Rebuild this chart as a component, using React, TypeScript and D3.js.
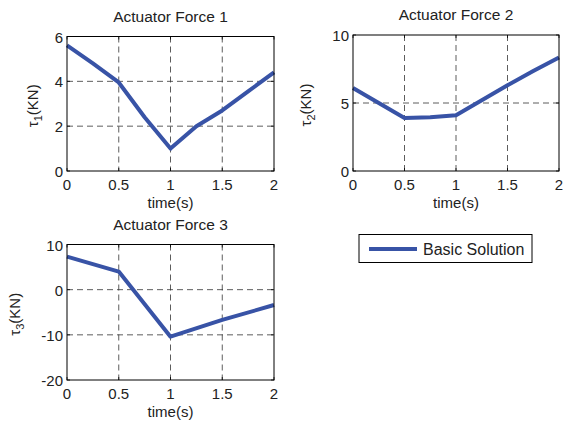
import React, { useEffect, useRef } from 'react';
import * as d3 from 'd3';

const timeTicks = [0, 0.5, 1, 1.5, 2];

const force1Time = [0, 0.25, 0.5, 0.75, 1, 1.25, 1.5, 1.75, 2];
const force1Vals = [5.6, 4.8, 3.95, 2.4, 1.0, 2.0, 2.7, 3.55, 4.4];
const force1Ticks = [0, 2, 4, 6];

const force2Time = [0, 0.5, 0.75, 1, 1.25, 1.5, 1.75, 2];
const force2Vals = [6.1, 3.9, 3.95, 4.1, 5.2, 6.3, 7.35, 8.35];
const force2Ticks = [0, 5, 10];

const force3Time = [0, 0.5, 1, 1.5, 2];
const force3Vals = [7.3, 4.0, -10.4, -6.7, -3.4];
const force3Ticks = [-20, -10, 0, 10];

const legendLabel = 'Basic Solution';
const lineColor = '#3853a6';
const font = 'Liberation Sans, Arial, sans-serif';

interface Panel {
  title: string;
  sub: string;
  t: number[];
  v: number[];
  yTicks: number[];
  yDomain: [number, number];
  labelOff: number;
  box: { x0: number; x1: number; y0: number; y1: number };
}

const panels: Panel[] = [
  { title: 'Actuator Force 1', sub: '1', t: force1Time, v: force1Vals, yTicks: force1Ticks, yDomain: [0, 6],
    labelOff: 29, box: { x0: 67, x1: 274, y0: 36.5, y1: 171 } },
  { title: 'Actuator Force 2', sub: '2', t: force2Time, v: force2Vals, yTicks: force2Ticks, yDomain: [0, 10],
    labelOff: 42, box: { x0: 353, x1: 559, y0: 35, y1: 171 } },
  { title: 'Actuator Force 3', sub: '3', t: force3Time, v: force3Vals, yTicks: force3Ticks, yDomain: [-20, 10],
    labelOff: 47, box: { x0: 67, x1: 274, y0: 244.5, y1: 380 } },
];

const App: React.FC = () => {
  const ref = useRef<SVGSVGElement>(null);

  useEffect(() => {
    if (!ref.current) return;
    const svg = d3.select(ref.current);
    svg.selectAll('*').remove();

    panels.forEach(p => {
      const { x0, x1, y0, y1 } = p.box;
      const x = d3.scaleLinear().domain([0, 2]).range([x0, x1]);
      const y = d3.scaleLinear().domain(p.yDomain).range([y1, y0]);
      const g = svg.append('g');

      g.append('rect').attr('x', x0).attr('y', y0).attr('width', x1 - x0).attr('height', y1 - y0)
        .attr('fill', '#fff');

      // grid
      g.selectAll('.vg').data(timeTicks.slice(1, -1)).enter().append('line')
        .attr('x1', d => x(d)).attr('x2', d => x(d)).attr('y1', y0).attr('y2', y1)
        .attr('stroke', '#333').attr('stroke-width', 0.8).attr('stroke-dasharray', '6,4');
      g.selectAll('.hg').data(p.yTicks.slice(1, -1)).enter().append('line')
        .attr('y1', d => y(d)).attr('y2', d => y(d)).attr('x1', x0).attr('x2', x1)
        .attr('stroke', '#333').attr('stroke-width', 0.8).attr('stroke-dasharray', '6,4');

      // ticks inside
      g.selectAll('.xt').data(timeTicks).enter().append('path')
        .attr('d', d => `M${x(d)},${y1}v-3M${x(d)},${y0}v3`).attr('stroke', '#000').attr('stroke-width', 0.8);
      g.selectAll('.yt').data(p.yTicks).enter().append('path')
        .attr('d', d => `M${x0},${y(d)}h3M${x1},${y(d)}h-3`).attr('stroke', '#000').attr('stroke-width', 0.8);

      // data line
      const line = d3.line<number>().x((_, i) => x(p.t[i])).y(d => y(d));
      g.append('path').datum(p.v).attr('d', line).attr('fill', 'none')
        .attr('stroke', lineColor).attr('stroke-width', 4).attr('stroke-linejoin', 'round');

      g.append('rect').attr('x', x0).attr('y', y0).attr('width', x1 - x0).attr('height', y1 - y0)
        .attr('fill', 'none').attr('stroke', '#000').attr('stroke-width', 1);

      // tick labels
      g.selectAll('.xl').data(timeTicks).enter().append('text')
        .attr('x', d => x(d)).attr('y', y1 + 19).attr('text-anchor', 'middle')
        .attr('font-family', font).attr('font-size', 15).attr('fill', '#222')
        .text(d => String(d));
      g.selectAll('.yl').data(p.yTicks).enter().append('text')
        .attr('x', x0 - 4).attr('y', d => y(d) + 6).attr('text-anchor', 'end')
        .attr('font-family', font).attr('font-size', 15).attr('fill', '#222')
        .text(d => String(d));

      // title
      g.append('text').attr('x', (x0 + x1) / 2).attr('y', y0 - 15).attr('text-anchor', 'middle')
        .attr('font-family', font).attr('font-size', 15.5).attr('fill', '#222').text(p.title);

      // x label
      g.append('text').attr('x', (x0 + x1) / 2).attr('y', y1 + 37).attr('text-anchor', 'middle')
        .attr('font-family', font).attr('font-size', 15).attr('fill', '#222').text('time(s)');

      // y label
      const yl = g.append('text')
        .attr('transform', `translate(${x0 - p.labelOff},${(y0 + y1) / 2 + 2}) rotate(-90)`)
        .attr('text-anchor', 'middle').attr('font-family', font).attr('font-size', 15).attr('fill', '#222');
      yl.append('tspan').text('τ');
      yl.append('tspan').attr('font-size', 11).attr('dy', 4).text(p.sub);
      yl.append('tspan').attr('dy', -4).text('(KN)');
    });

    // legend
    const lg = svg.append('g');
    lg.append('rect').attr('x', 359).attr('y', 234.5).attr('width', 173).attr('height', 28)
      .attr('fill', '#fff').attr('stroke', '#000').attr('stroke-width', 1);
    lg.append('line').attr('x1', 369).attr('x2', 417).attr('y1', 249).attr('y2', 249)
      .attr('stroke', lineColor).attr('stroke-width', 4);
    lg.append('text').attr('x', 423).attr('y', 255).attr('font-family', font).attr('font-size', 16)
      .attr('fill', '#222').text(legendLabel);
  }, []);

  return (
    <svg ref={ref} width={564} height={422}
      style={{ position: 'absolute', left: 0, top: 0, background: '#fff' }} />
  );
};

export default App;
